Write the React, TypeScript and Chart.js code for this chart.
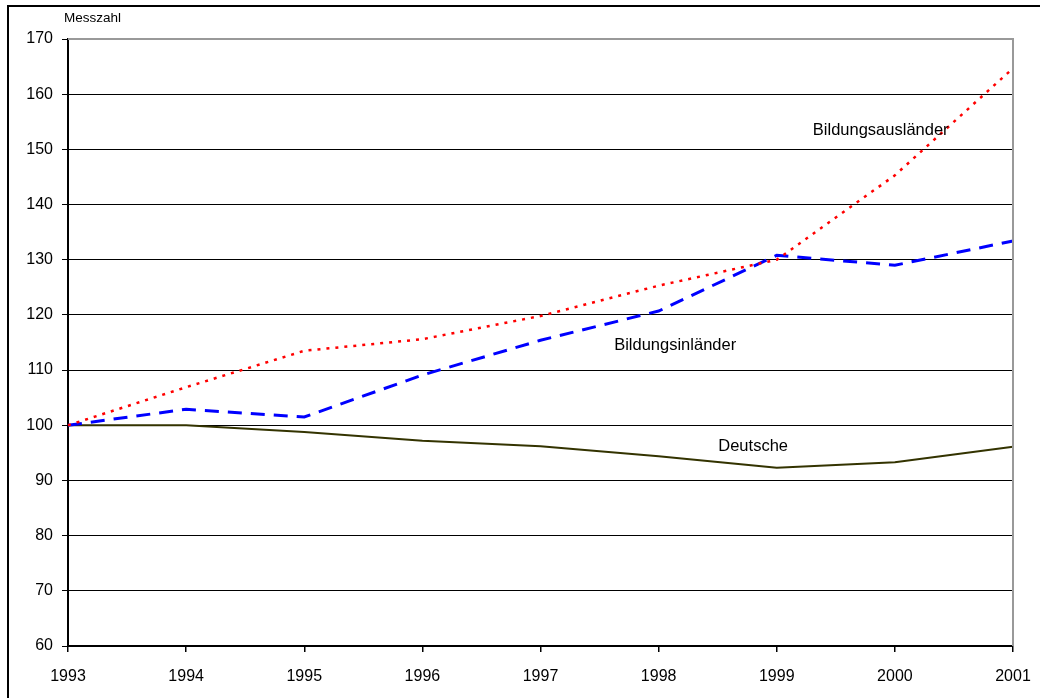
import React, { useEffect, useRef } from "react";
import { Chart, registerables } from "chart.js";

Chart.register(...registerables);

const years = ["1993", "1994", "1995", "1996", "1997", "1998", "1999", "2000", "2001"];
const deutsche = [100, 100, 98.8, 97.2, 96.2, 94.4, 92.3, 93.3, 96.1];
const bildungsinlaender = [100, 102.9, 101.5, 109.1, 115.4, 120.7, 130.8, 129.0, 133.4];
const bildungsauslaender = [100, 106.9, 113.5, 115.6, 119.8, 125.3, 130.0, 145.3, 164.7];
const yAxisTitle = "Messzahl";
const seriesLabels = [
  { text: "Bildungsausländer", x: 1999.88, y: 153.4 },
  { text: "Bildungsinländer", x: 1998.14, y: 114.5 },
  { text: "Deutsche", x: 1998.8, y: 96.2 },
];

const FONT = "'Liberation Sans', Arial, sans-serif";

const decorPlugin = {
  id: "decor",
  beforeDraw(chart: any) {
    const ctx = chart.ctx;
    ctx.save();
    ctx.fillStyle = "#ffffff";
    ctx.fillRect(0, 0, chart.width, chart.height);
    ctx.restore();
  },
  afterDraw(chart: any) {
    const ctx = chart.ctx;
    const a = chart.chartArea;
    const xs = chart.scales.x;
    const ys = chart.scales.y;
    ctx.save();
    // outer frame
    ctx.fillStyle = "#000";
    ctx.fillRect(7, 5, 2, chart.height - 5);
    ctx.fillRect(7, 5, chart.width - 7, 2);
    // top and right gray lines
    ctx.strokeStyle = "#999999";
    ctx.lineWidth = 2;
    ctx.beginPath();
    ctx.moveTo(a.left, a.top);
    ctx.lineTo(a.right, a.top);
    ctx.lineTo(a.right, a.bottom);
    ctx.stroke();
    // axis title
    ctx.fillStyle = "#000";
    ctx.font = `13.5px ${FONT}`;
    ctx.textAlign = "left";
    ctx.textBaseline = "alphabetic";
    ctx.fillText(yAxisTitle, 64, 22);
    // series labels
    ctx.font = `16.5px ${FONT}`;
    ctx.textAlign = "center";
    ctx.textBaseline = "middle";
    for (const l of seriesLabels) {
      const px = xs.getPixelForValue((l.x - 1993));
      const py = ys.getPixelForValue(l.y);
      ctx.fillText(l.text, px, py);
    }
    ctx.restore();
  },
};

export default function App() {
  const ref = useRef<HTMLCanvasElement>(null);
  useEffect(() => {
    if (!ref.current) return;
    const chart = new Chart(ref.current, {
      type: "line",
      data: {
        labels: years,
        datasets: [
          {
            label: "Bildungsausländer",
            data: bildungsauslaender,
            borderColor: "#ff0000",
            borderWidth: 2.5,
            borderDash: [3, 6],
            pointRadius: 0,
            tension: 0,
            fill: false,
          },
          {
            label: "Bildungsinländer",
            data: bildungsinlaender,
            borderColor: "#0000ff",
            borderWidth: 3,
            borderDash: [14, 9],
            pointRadius: 0,
            tension: 0,
            fill: false,
          },
          {
            label: "Deutsche",
            data: deutsche,
            borderColor: "#333300",
            borderWidth: 2,
            pointRadius: 0,
            tension: 0,
            fill: false,
          },
        ],
      },
      options: {
        animation: false,
        responsive: false,
        layout: { padding: { left: 0, top: 39, right: 27, bottom: 0 } },
        plugins: {
          legend: { display: false },
          tooltip: { enabled: false },
          title: { display: false },
        },
        scales: {
          x: {
            type: "category",
            offset: false,
            border: { display: true, color: "#000", width: 2 },
            grid: {
              drawOnChartArea: false,
              drawTicks: true,
              tickLength: 6,
              color: "#000",
              lineWidth: 1.5,
            },
            ticks: {
              color: "#000",
              font: { family: FONT, size: 16 },
              padding: 15,
              maxRotation: 0,
              autoSkip: false,
            },
            afterFit: (s: any) => {
              s.height = 52;
              s.paddingLeft = 0;
              s.paddingRight = 0;
            },
          },
          y: {
            min: 60,
            max: 170,
            border: { display: true, color: "#000", width: 2 },
            grid: {
              color: "#000",
              lineWidth: 1,
              drawTicks: true,
              tickLength: 6,
            },
            ticks: {
              stepSize: 10,
              color: "#000",
              font: { family: FONT, size: 16 },
              padding: 9,
            },
            afterFit: (s: any) => {
              s.width = 68;
            },
          },
        },
      },
      plugins: [decorPlugin],
    } as any);
    return () => chart.destroy();
  }, []);
  return (
    <div
      style={{
        position: "fixed",
        left: 0,
        top: 0,
        width: 1040,
        height: 698,
        background: "#fff",
        overflow: "hidden",
      }}
    >
      <canvas ref={ref} width={1040} height={698} style={{ width: 1040, height: 698, display: "block" }} />
    </div>
  );
}
